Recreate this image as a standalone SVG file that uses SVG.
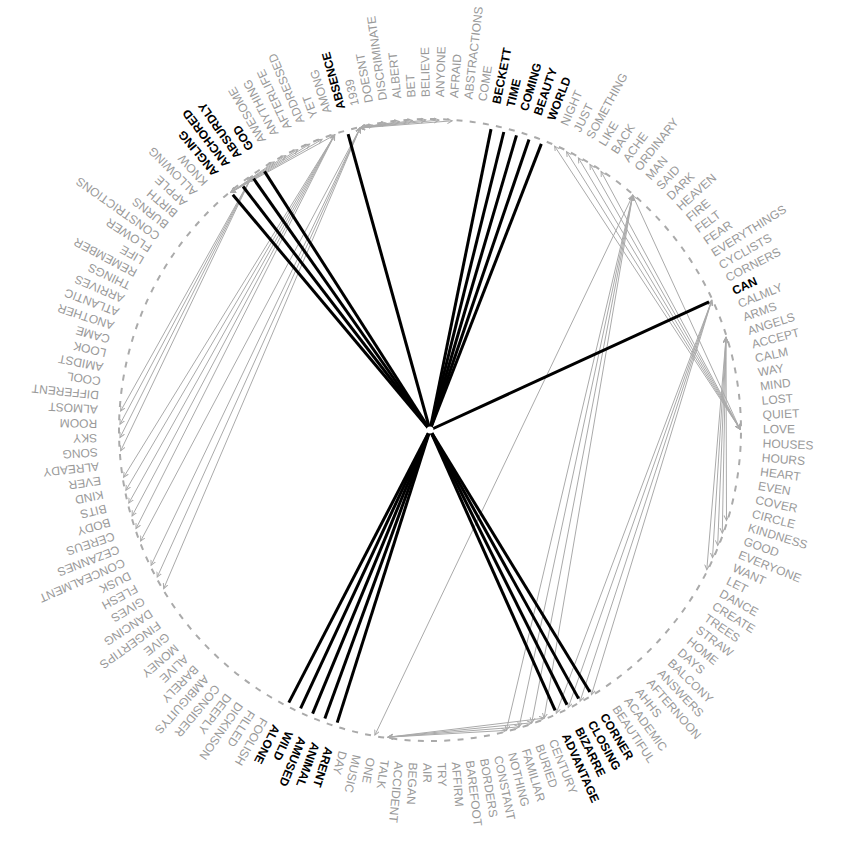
<svg xmlns="http://www.w3.org/2000/svg" width="850" height="850" viewBox="0 0 850 850">
<style>
.l{font-family:"Liberation Sans",Arial,sans-serif;font-size:12px;fill:#999}
.b{font-weight:bold;fill:#000}
.s{stroke:#000;stroke-width:3}
.c{stroke:#aaa;stroke-width:1;fill:none;marker-start:url(#as);marker-end:url(#ae)}
.ring{fill:none;stroke:#aaa;stroke-width:2;stroke-dasharray:6 7.293;stroke-dashoffset:-2.73}
</style>
<defs>
<marker id="ae" markerUnits="userSpaceOnUse" markerWidth="8" markerHeight="8" refX="5" refY="3" orient="auto"><path d="M0,0.5 L5,3 L0,5.5" fill="none" stroke="#aaa" stroke-width="1"/></marker>
<marker id="as" markerUnits="userSpaceOnUse" markerWidth="8" markerHeight="8" refX="5" refY="3" orient="auto-start-reverse"><path d="M0,0.5 L5,3 L0,5.5" fill="none" stroke="#aaa" stroke-width="1"/></marker>
</defs>
<rect width="850" height="850" fill="#fff"/>
<g id="connectors">
<circle class="ring" cx="430" cy="430" r="311"/>
<line class="c" x1="554.6" y1="146.1" x2="740" y2="429.1"/>
<line class="c" x1="566.6" y1="151.7" x2="740" y2="429.1"/>
<line class="c" x1="578.4" y1="157.9" x2="740" y2="429.1"/>
<line class="c" x1="590" y1="164.4" x2="740" y2="429.1"/>
<line class="c" x1="601.1" y1="171.5" x2="740" y2="429.1"/>
<line class="c" x1="632.7" y1="195.4" x2="740" y2="429.1"/>
<line class="c" x1="632.7" y1="195.4" x2="506.3" y2="730.4"/>
<line class="c" x1="632.7" y1="195.4" x2="519.1" y2="726.9"/>
<line class="c" x1="632.7" y1="195.4" x2="531.7" y2="722.8"/>
<line class="c" x1="632.7" y1="195.4" x2="544.1" y2="718.2"/>
<line class="c" x1="632.7" y1="195.4" x2="374.9" y2="735.1"/>
<line class="c" x1="711.7" y1="300.6" x2="591.5" y2="694.7"/>
<line class="c" x1="711.7" y1="300.6" x2="580.1" y2="701.2"/>
<line class="c" x1="711.7" y1="300.6" x2="568.3" y2="707.4"/>
<line class="c" x1="711.7" y1="300.6" x2="556.3" y2="713.1"/>
<line class="c" x1="726" y1="337.7" x2="726.5" y2="520.5"/>
<line class="c" x1="726" y1="337.7" x2="722.3" y2="533.1"/>
<line class="c" x1="726" y1="337.7" x2="717.7" y2="545.5"/>
<line class="c" x1="726" y1="337.7" x2="712.5" y2="557.7"/>
<line class="c" x1="726" y1="337.7" x2="706.8" y2="569.7"/>
<line class="c" x1="388" y1="737.2" x2="506.3" y2="730.4"/>
<line class="c" x1="388" y1="737.2" x2="519.1" y2="726.9"/>
<line class="c" x1="388" y1="737.2" x2="531.7" y2="722.8"/>
<line class="c" x1="388" y1="737.2" x2="544.1" y2="718.2"/>
<line class="c" x1="251.9" y1="176.2" x2="120.6" y2="411.1"/>
<line class="c" x1="251.9" y1="176.2" x2="120" y2="424.2"/>
<line class="c" x1="251.9" y1="176.2" x2="120" y2="437.6"/>
<line class="c" x1="251.9" y1="176.2" x2="120.7" y2="450.8"/>
<line class="c" x1="230.9" y1="192.4" x2="274.2" y2="162"/>
<line class="c" x1="230.9" y1="192.4" x2="285.8" y2="155.5"/>
<line class="c" x1="230.9" y1="192.4" x2="297.7" y2="149.6"/>
<line class="c" x1="230.9" y1="192.4" x2="309.7" y2="144.2"/>
<line class="c" x1="230.9" y1="192.4" x2="322.1" y2="139.4"/>
<line class="c" x1="230.9" y1="192.4" x2="334.6" y2="135"/>
<line class="c" x1="334.6" y1="135" x2="123.6" y2="477.2"/>
<line class="c" x1="334.6" y1="135" x2="125.9" y2="490.2"/>
<line class="c" x1="334.6" y1="135" x2="128.8" y2="503.1"/>
<line class="c" x1="334.6" y1="135" x2="132.1" y2="515.9"/>
<line class="c" x1="334.6" y1="135" x2="136" y2="528.6"/>
<line class="c" x1="360.1" y1="128" x2="140.6" y2="541.1"/>
<line class="c" x1="360.1" y1="128" x2="151.1" y2="565.3"/>
<line class="c" x1="360.1" y1="128" x2="157.2" y2="577.1"/>
<line class="c" x1="360.1" y1="128" x2="163.7" y2="588.6"/>
<line class="c" x1="360.1" y1="128" x2="373" y2="125.2"/>
<line class="c" x1="360.1" y1="128" x2="386.2" y2="123.1"/>
<line class="c" x1="360.1" y1="128" x2="399.3" y2="121.5"/>
<line class="c" x1="360.1" y1="128" x2="412.5" y2="120.5"/>
<line class="c" x1="360.1" y1="128" x2="425.8" y2="120"/>
<line class="c" x1="360.1" y1="128" x2="439" y2="120"/>
<line class="c" x1="360.1" y1="128" x2="452.2" y2="120.8"/>
<g transform="translate(430,430)">
<line class="s" x2="307" transform="rotate(-78.54)"/>
<line class="s" x2="307" transform="rotate(-76.09)"/>
<line class="s" x2="307" transform="rotate(-73.64)"/>
<line class="s" x2="307" transform="rotate(-71.19)"/>
<line class="s" x2="307" transform="rotate(-68.74)"/>
<line class="s" x2="307" transform="rotate(-24.66)"/>
<line class="s" x2="307" transform="rotate(58.61)"/>
<line class="s" x2="307" transform="rotate(61.05)"/>
<line class="s" x2="307" transform="rotate(63.50)"/>
<line class="s" x2="307" transform="rotate(65.95)"/>
<line class="s" x2="307" transform="rotate(107.59)"/>
<line class="s" x2="307" transform="rotate(110.03)"/>
<line class="s" x2="307" transform="rotate(112.48)"/>
<line class="s" x2="307" transform="rotate(114.93)"/>
<line class="s" x2="307" transform="rotate(117.38)"/>
<line class="s" x2="307" transform="rotate(230.04)"/>
<line class="s" x2="307" transform="rotate(232.48)"/>
<line class="s" x2="307" transform="rotate(234.93)"/>
<line class="s" x2="307" transform="rotate(237.38)"/>
<line class="s" x2="307" transform="rotate(254.53)"/>
<circle r="3.5" fill="#fff"/>
</g>
</g>
<g transform="translate(430,430)">
<g id="n-beckett"><text class="l b" transform="rotate(-78.54) translate(333,0)" dy="0.35em">BECKETT</text></g>
<g id="n-time"><text class="l b" transform="rotate(-76.09) translate(333,0)" dy="0.35em">TIME</text></g>
<g id="n-coming"><text class="l b" transform="rotate(-73.64) translate(333,0)" dy="0.35em">COMING</text></g>
<g id="n-beauty"><text class="l b" transform="rotate(-71.19) translate(333,0)" dy="0.35em">BEAUTY</text></g>
<g id="n-world"><text class="l b" transform="rotate(-68.74) translate(333,0)" dy="0.35em">WORLD</text></g>
<g id="n-night"><text class="l" transform="rotate(-66.30) translate(333,0)" dy="0.35em">NIGHT</text></g>
<g id="n-just"><text class="l" transform="rotate(-63.85) translate(333,0)" dy="0.35em">JUST</text></g>
<g id="n-something"><text class="l" transform="rotate(-61.40) translate(333,0)" dy="0.35em">SOMETHING</text></g>
<g id="n-like"><text class="l" transform="rotate(-58.95) translate(333,0)" dy="0.35em">LIKE</text></g>
<g id="n-back"><text class="l" transform="rotate(-56.50) translate(333,0)" dy="0.35em">BACK</text></g>
<g id="n-ache"><text class="l" transform="rotate(-54.05) translate(333,0)" dy="0.35em">ACHE</text></g>
<g id="n-ordinary"><text class="l" transform="rotate(-51.60) translate(333,0)" dy="0.35em">ORDINARY</text></g>
<g id="n-man"><text class="l" transform="rotate(-49.15) translate(333,0)" dy="0.35em">MAN</text></g>
<g id="n-said"><text class="l" transform="rotate(-46.70) translate(333,0)" dy="0.35em">SAID</text></g>
<g id="n-dark"><text class="l" transform="rotate(-44.25) translate(333,0)" dy="0.35em">DARK</text></g>
<g id="n-heaven"><text class="l" transform="rotate(-41.80) translate(333,0)" dy="0.35em">HEAVEN</text></g>
<g id="n-fire"><text class="l" transform="rotate(-39.36) translate(333,0)" dy="0.35em">FIRE</text></g>
<g id="n-felt"><text class="l" transform="rotate(-36.91) translate(333,0)" dy="0.35em">FELT</text></g>
<g id="n-fear"><text class="l" transform="rotate(-34.46) translate(333,0)" dy="0.35em">FEAR</text></g>
<g id="n-everythings"><text class="l" transform="rotate(-32.01) translate(333,0)" dy="0.35em">EVERYTHINGS</text></g>
<g id="n-cyclists"><text class="l" transform="rotate(-29.56) translate(333,0)" dy="0.35em">CYCLISTS</text></g>
<g id="n-corners"><text class="l" transform="rotate(-27.11) translate(333,0)" dy="0.35em">CORNERS</text></g>
<g id="n-can"><text class="l b" transform="rotate(-24.66) translate(333,0)" dy="0.35em">CAN</text></g>
<g id="n-calmly"><text class="l" transform="rotate(-22.21) translate(333,0)" dy="0.35em">CALMLY</text></g>
<g id="n-arms"><text class="l" transform="rotate(-19.76) translate(333,0)" dy="0.35em">ARMS</text></g>
<g id="n-angels"><text class="l" transform="rotate(-17.31) translate(333,0)" dy="0.35em">ANGELS</text></g>
<g id="n-accept"><text class="l" transform="rotate(-14.87) translate(333,0)" dy="0.35em">ACCEPT</text></g>
<g id="n-calm"><text class="l" transform="rotate(-12.42) translate(333,0)" dy="0.35em">CALM</text></g>
<g id="n-way"><text class="l" transform="rotate(-9.97) translate(333,0)" dy="0.35em">WAY</text></g>
<g id="n-mind"><text class="l" transform="rotate(-7.52) translate(333,0)" dy="0.35em">MIND</text></g>
<g id="n-lost"><text class="l" transform="rotate(-5.07) translate(333,0)" dy="0.35em">LOST</text></g>
<g id="n-quiet"><text class="l" transform="rotate(-2.62) translate(333,0)" dy="0.35em">QUIET</text></g>
<g id="n-love"><text class="l" transform="rotate(-0.17) translate(333,0)" dy="0.35em">LOVE</text></g>
<g id="n-houses"><text class="l" transform="rotate(2.28) translate(333,0)" dy="0.35em">HOUSES</text></g>
<g id="n-hours"><text class="l" transform="rotate(4.73) translate(333,0)" dy="0.35em">HOURS</text></g>
<g id="n-heart"><text class="l" transform="rotate(7.18) translate(333,0)" dy="0.35em">HEART</text></g>
<g id="n-even"><text class="l" transform="rotate(9.62) translate(333,0)" dy="0.35em">EVEN</text></g>
<g id="n-cover"><text class="l" transform="rotate(12.07) translate(333,0)" dy="0.35em">COVER</text></g>
<g id="n-circle"><text class="l" transform="rotate(14.52) translate(333,0)" dy="0.35em">CIRCLE</text></g>
<g id="n-kindness"><text class="l" transform="rotate(16.97) translate(333,0)" dy="0.35em">KINDNESS</text></g>
<g id="n-good"><text class="l" transform="rotate(19.42) translate(333,0)" dy="0.35em">GOOD</text></g>
<g id="n-everyone"><text class="l" transform="rotate(21.87) translate(333,0)" dy="0.35em">EVERYONE</text></g>
<g id="n-want"><text class="l" transform="rotate(24.32) translate(333,0)" dy="0.35em">WANT</text></g>
<g id="n-let"><text class="l" transform="rotate(26.77) translate(333,0)" dy="0.35em">LET</text></g>
<g id="n-dance"><text class="l" transform="rotate(29.22) translate(333,0)" dy="0.35em">DANCE</text></g>
<g id="n-create"><text class="l" transform="rotate(31.67) translate(333,0)" dy="0.35em">CREATE</text></g>
<g id="n-trees"><text class="l" transform="rotate(34.11) translate(333,0)" dy="0.35em">TREES</text></g>
<g id="n-straw"><text class="l" transform="rotate(36.56) translate(333,0)" dy="0.35em">STRAW</text></g>
<g id="n-home"><text class="l" transform="rotate(39.01) translate(333,0)" dy="0.35em">HOME</text></g>
<g id="n-days"><text class="l" transform="rotate(41.46) translate(333,0)" dy="0.35em">DAYS</text></g>
<g id="n-balcony"><text class="l" transform="rotate(43.91) translate(333,0)" dy="0.35em">BALCONY</text></g>
<g id="n-answers"><text class="l" transform="rotate(46.36) translate(333,0)" dy="0.35em">ANSWERS</text></g>
<g id="n-afternoon"><text class="l" transform="rotate(48.81) translate(333,0)" dy="0.35em">AFTERNOON</text></g>
<g id="n-ahhs"><text class="l" transform="rotate(51.26) translate(333,0)" dy="0.35em">AHHS</text></g>
<g id="n-academic"><text class="l" transform="rotate(53.71) translate(333,0)" dy="0.35em">ACADEMIC</text></g>
<g id="n-beautiful"><text class="l" transform="rotate(56.16) translate(333,0)" dy="0.35em">BEAUTIFUL</text></g>
<g id="n-corner"><text class="l b" transform="rotate(58.61) translate(333,0)" dy="0.35em">CORNER</text></g>
<g id="n-closing"><text class="l b" transform="rotate(61.05) translate(333,0)" dy="0.35em">CLOSING</text></g>
<g id="n-bizarre"><text class="l b" transform="rotate(63.50) translate(333,0)" dy="0.35em">BIZARRE</text></g>
<g id="n-advantage"><text class="l b" transform="rotate(65.95) translate(333,0)" dy="0.35em">ADVANTAGE</text></g>
<g id="n-century"><text class="l" transform="rotate(68.40) translate(333,0)" dy="0.35em">CENTURY</text></g>
<g id="n-buried"><text class="l" transform="rotate(70.85) translate(333,0)" dy="0.35em">BURIED</text></g>
<g id="n-familiar"><text class="l" transform="rotate(73.30) translate(333,0)" dy="0.35em">FAMILIAR</text></g>
<g id="n-nothing"><text class="l" transform="rotate(75.75) translate(333,0)" dy="0.35em">NOTHING</text></g>
<g id="n-constant"><text class="l" transform="rotate(78.20) translate(333,0)" dy="0.35em">CONSTANT</text></g>
<g id="n-borders"><text class="l" transform="rotate(80.65) translate(333,0)" dy="0.35em">BORDERS</text></g>
<g id="n-barefoot"><text class="l" transform="rotate(83.10) translate(333,0)" dy="0.35em">BAREFOOT</text></g>
<g id="n-affirm"><text class="l" transform="rotate(85.54) translate(333,0)" dy="0.35em">AFFIRM</text></g>
<g id="n-try"><text class="l" transform="rotate(87.99) translate(333,0)" dy="0.35em">TRY</text></g>
<g id="n-air"><text class="l" transform="rotate(90.44) translate(333,0)" dy="0.35em">AIR</text></g>
<g id="n-began"><text class="l" transform="rotate(92.89) translate(333,0)" dy="0.35em">BEGAN</text></g>
<g id="n-accident"><text class="l" transform="rotate(95.34) translate(333,0)" dy="0.35em">ACCIDENT</text></g>
<g id="n-talk"><text class="l" transform="rotate(97.79) translate(333,0)" dy="0.35em">TALK</text></g>
<g id="n-one"><text class="l" transform="rotate(100.24) translate(333,0)" dy="0.35em">ONE</text></g>
<g id="n-music"><text class="l" transform="rotate(102.69) translate(333,0)" dy="0.35em">MUSIC</text></g>
<g id="n-day"><text class="l" transform="rotate(105.14) translate(333,0)" dy="0.35em">DAY</text></g>
<g id="n-arent"><text class="l b" transform="rotate(107.59) translate(333,0)" dy="0.35em">ARENT</text></g>
<g id="n-animal"><text class="l b" transform="rotate(110.03) translate(333,0)" dy="0.35em">ANIMAL</text></g>
<g id="n-amused"><text class="l b" transform="rotate(112.48) translate(333,0)" dy="0.35em">AMUSED</text></g>
<g id="n-wild"><text class="l b" transform="rotate(114.93) translate(333,0)" dy="0.35em">WILD</text></g>
<g id="n-alone"><text class="l b" transform="rotate(117.38) translate(333,0)" dy="0.35em">ALONE</text></g>
<g id="n-foolish"><text class="l" transform="rotate(119.83) translate(333,0)" dy="0.35em">FOOLISH</text></g>
<g id="n-filled"><text class="l" transform="rotate(122.28) translate(333,0)" dy="0.35em">FILLED</text></g>
<g id="n-dickinson"><text class="l" transform="rotate(124.73) translate(333,0)" dy="0.35em">DICKINSON</text></g>
<g id="n-deeply"><text class="l" transform="rotate(127.18) translate(333,0)" dy="0.35em">DEEPLY</text></g>
<g id="n-consider"><text class="l" transform="rotate(129.63) translate(333,0)" dy="0.35em">CONSIDER</text></g>
<g id="n-ambiguitys"><text class="l" transform="rotate(132.08) translate(333,0)" dy="0.35em">AMBIGUITYS</text></g>
<g id="n-barely"><text class="l" transform="rotate(134.52) translate(333,0)" dy="0.35em">BARELY</text></g>
<g id="n-alive"><text class="l" transform="rotate(136.97) translate(333,0)" dy="0.35em">ALIVE</text></g>
<g id="n-money"><text class="l" transform="rotate(139.42) translate(333,0)" dy="0.35em">MONEY</text></g>
<g id="n-give"><text class="l" transform="rotate(141.87) translate(333,0)" dy="0.35em">GIVE</text></g>
<g id="n-fingertips"><text class="l" transform="rotate(144.32) translate(333,0)" dy="0.35em">FINGERTIPS</text></g>
<g id="n-dancing"><text class="l" transform="rotate(146.77) translate(333,0)" dy="0.35em">DANCING</text></g>
<g id="n-gives"><text class="l" transform="rotate(149.22) translate(333,0)" dy="0.35em">GIVES</text></g>
<g id="n-flesh"><text class="l" transform="rotate(151.67) translate(333,0)" dy="0.35em">FLESH</text></g>
<g id="n-dusk"><text class="l" transform="rotate(154.12) translate(333,0)" dy="0.35em">DUSK</text></g>
<g id="n-concealment"><text class="l" transform="rotate(156.57) translate(333,0)" dy="0.35em">CONCEALMENT</text></g>
<g id="n-cezannes"><text class="l" transform="rotate(159.01) translate(333,0)" dy="0.35em">CEZANNES</text></g>
<g id="n-cereus"><text class="l" transform="rotate(161.46) translate(333,0)" dy="0.35em">CEREUS</text></g>
<g id="n-body"><text class="l" transform="rotate(163.91) translate(333,0)" dy="0.35em">BODY</text></g>
<g id="n-bits"><text class="l" transform="rotate(166.36) translate(333,0)" dy="0.35em">BITS</text></g>
<g id="n-kind"><text class="l" transform="rotate(168.81) translate(333,0)" dy="0.35em">KIND</text></g>
<g id="n-ever"><text class="l" transform="rotate(171.26) translate(333,0)" dy="0.35em">EVER</text></g>
<g id="n-already"><text class="l" transform="rotate(173.71) translate(333,0)" dy="0.35em">ALREADY</text></g>
<g id="n-song"><text class="l" transform="rotate(176.16) translate(333,0)" dy="0.35em">SONG</text></g>
<g id="n-sky"><text class="l" transform="rotate(178.61) translate(333,0)" dy="0.35em">SKY</text></g>
<g id="n-room"><text class="l" transform="rotate(181.06) translate(333,0)" dy="0.35em">ROOM</text></g>
<g id="n-almost"><text class="l" transform="rotate(183.50) translate(333,0)" dy="0.35em">ALMOST</text></g>
<g id="n-different"><text class="l" transform="rotate(185.95) translate(333,0)" dy="0.35em">DIFFERENT</text></g>
<g id="n-cool"><text class="l" transform="rotate(188.40) translate(333,0)" dy="0.35em">COOL</text></g>
<g id="n-amidst"><text class="l" transform="rotate(190.85) translate(333,0)" dy="0.35em">AMIDST</text></g>
<g id="n-look"><text class="l" transform="rotate(193.30) translate(333,0)" dy="0.35em">LOOK</text></g>
<g id="n-came"><text class="l" transform="rotate(195.75) translate(333,0)" dy="0.35em">CAME</text></g>
<g id="n-another"><text class="l" transform="rotate(198.20) translate(333,0)" dy="0.35em">ANOTHER</text></g>
<g id="n-atlantic"><text class="l" transform="rotate(200.65) translate(333,0)" dy="0.35em">ATLANTIC</text></g>
<g id="n-arrives"><text class="l" transform="rotate(203.10) translate(333,0)" dy="0.35em">ARRIVES</text></g>
<g id="n-things"><text class="l" transform="rotate(205.55) translate(333,0)" dy="0.35em">THINGS</text></g>
<g id="n-remember"><text class="l" transform="rotate(207.99) translate(333,0)" dy="0.35em">REMEMBER</text></g>
<g id="n-life"><text class="l" transform="rotate(210.44) translate(333,0)" dy="0.35em">LIFE</text></g>
<g id="n-flower"><text class="l" transform="rotate(212.89) translate(333,0)" dy="0.35em">FLOWER</text></g>
<g id="n-constrictions"><text class="l" transform="rotate(215.34) translate(333,0)" dy="0.35em">CONSTRICTIONS</text></g>
<g id="n-burns"><text class="l" transform="rotate(217.79) translate(333,0)" dy="0.35em">BURNS</text></g>
<g id="n-birth"><text class="l" transform="rotate(220.24) translate(333,0)" dy="0.35em">BIRTH</text></g>
<g id="n-apple"><text class="l" transform="rotate(222.69) translate(333,0)" dy="0.35em">APPLE</text></g>
<g id="n-allowing"><text class="l" transform="rotate(225.14) translate(333,0)" dy="0.35em">ALLOWING</text></g>
<g id="n-know"><text class="l" transform="rotate(227.59) translate(333,0)" dy="0.35em">KNOW</text></g>
<g id="n-angling"><text class="l b" transform="rotate(230.04) translate(333,0)" dy="0.35em">ANGLING</text></g>
<g id="n-anchored"><text class="l b" transform="rotate(232.48) translate(333,0)" dy="0.35em">ANCHORED</text></g>
<g id="n-absurdly"><text class="l b" transform="rotate(234.93) translate(333,0)" dy="0.35em">ABSURDLY</text></g>
<g id="n-god"><text class="l b" transform="rotate(237.38) translate(333,0)" dy="0.35em">GOD</text></g>
<g id="n-awesome"><text class="l" transform="rotate(239.83) translate(333,0)" dy="0.35em">AWESOME</text></g>
<g id="n-anything"><text class="l" transform="rotate(242.28) translate(333,0)" dy="0.35em">ANYTHING</text></g>
<g id="n-afterlife"><text class="l" transform="rotate(244.73) translate(333,0)" dy="0.35em">AFTERLIFE</text></g>
<g id="n-addressed"><text class="l" transform="rotate(247.18) translate(333,0)" dy="0.35em">ADDRESSED</text></g>
<g id="n-yet"><text class="l" transform="rotate(249.63) translate(333,0)" dy="0.35em">YET</text></g>
<g id="n-among"><text class="l" transform="rotate(252.08) translate(333,0)" dy="0.35em">AMONG</text></g>
<g id="n-absence"><text class="l b" transform="rotate(254.53) translate(333,0)" dy="0.35em">ABSENCE</text></g>
<g id="n-1939"><text class="l" transform="rotate(256.97) translate(333,0)" dy="0.35em">1939</text></g>
<g id="n-doesnt"><text class="l" transform="rotate(259.42) translate(333,0)" dy="0.35em">DOESNT</text></g>
<g id="n-discriminate"><text class="l" transform="rotate(261.87) translate(333,0)" dy="0.35em">DISCRIMINATE</text></g>
<g id="n-albert"><text class="l" transform="rotate(264.32) translate(333,0)" dy="0.35em">ALBERT</text></g>
<g id="n-bet"><text class="l" transform="rotate(266.77) translate(333,0)" dy="0.35em">BET</text></g>
<g id="n-believe"><text class="l" transform="rotate(269.22) translate(333,0)" dy="0.35em">BELIEVE</text></g>
<g id="n-anyone"><text class="l" transform="rotate(271.67) translate(333,0)" dy="0.35em">ANYONE</text></g>
<g id="n-afraid"><text class="l" transform="rotate(274.12) translate(333,0)" dy="0.35em">AFRAID</text></g>
<g id="n-abstractions"><text class="l" transform="rotate(276.57) translate(333,0)" dy="0.35em">ABSTRACTIONS</text></g>
<g id="n-come"><text class="l" transform="rotate(279.02) translate(333,0)" dy="0.35em">COME</text></g>
</g>
</svg>
